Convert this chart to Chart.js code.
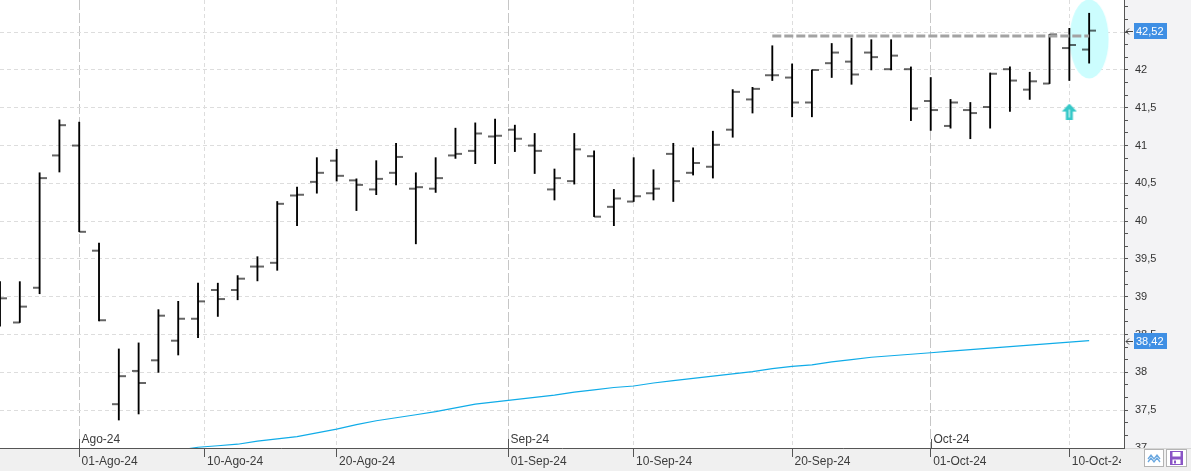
<!DOCTYPE html>
<html><head><meta charset="utf-8">
<script src="https://cdn.jsdelivr.net/npm/chart.js@4.4.1/dist/chart.umd.min.js"></script>
<style>
html,body{margin:0;padding:0;background:#f3f3f5;overflow:hidden;}
canvas{display:block;}
</style></head><body>
<canvas id="c" width="1191" height="471"></canvas>
<script>
// ---------- DATA ----------
const dates = ['2024-07-26','2024-07-29','2024-07-30','2024-07-31','2024-08-01','2024-08-02','2024-08-05','2024-08-06','2024-08-07','2024-08-08','2024-08-09','2024-08-12','2024-08-13','2024-08-14','2024-08-15','2024-08-16','2024-08-19','2024-08-20','2024-08-21','2024-08-22','2024-08-23','2024-08-26','2024-08-27','2024-08-28','2024-08-29','2024-08-30','2024-09-02','2024-09-03','2024-09-04','2024-09-05','2024-09-06','2024-09-09','2024-09-10','2024-09-11','2024-09-12','2024-09-13','2024-09-16','2024-09-17','2024-09-18','2024-09-19','2024-09-20','2024-09-23','2024-09-24','2024-09-25','2024-09-26','2024-09-27','2024-09-30','2024-10-01','2024-10-02','2024-10-03','2024-10-04','2024-10-07','2024-10-08','2024-10-09','2024-10-10','2024-10-11'];
const open  = [39.05,38.66,39.12,40.87,41.00,39.61,37.58,38.02,38.16,38.42, 38.71,39.09,39.09,39.40,39.45,40.34,40.52,40.80,40.54,40.42, 40.64,40.43,40.43,40.87,40.93,41.12,41.21,41.00,40.42,40.53, 40.86,40.19,40.26,40.37,40.89,40.64,40.72,41.21,41.61,41.93, 41.90,41.57,42.09,42.11,42.23,42.01,42.01,41.59,41.26,41.47, 41.51,42.01,41.74,41.82,42.29,42.27];
const high  = [39.20,39.20,40.64,41.34,41.31,39.71,38.31,38.39,38.83,38.94, 39.18,39.18,39.28,39.53,40.26,40.45,40.84,40.95,40.56,40.80, 41.03,40.64,40.84,41.23,41.30,41.35,41.27,41.16,40.69,41.16, 40.93,40.42,40.84,40.68,41.03,40.97,41.19,41.74,41.77,42.32, 42.08,42.00,42.35,42.42,42.40,42.40,42.04,41.90,41.61,41.57, 41.96,42.04,41.97,42.47,42.55,42.75];
const low   = [38.61,38.66,39.04,40.65,39.86,38.68,37.37,37.45,38.00,38.23, 38.46,38.74,38.96,39.21,39.35,39.94,40.37,40.53,40.14,40.35, 40.48,39.70,40.38,40.83,40.76,40.76,40.92,40.63,40.28,40.49, 40.06,39.94,40.26,40.28,40.26,40.61,40.57,41.11,41.43,41.86, 41.38,41.38,41.90,41.81,42.00,42.00,41.33,41.20,41.23,41.09, 41.23,41.45,41.61,41.82,41.86,42.09];
const close = [38.98,38.87,40.57,41.27,39.86,38.69,37.95,37.86,38.75,38.71, 38.94,38.97,39.24,39.40,40.23,40.35,40.64,40.60,40.48,40.56, 40.85,40.45,40.57,40.89,41.16,41.13,41.09,40.93,40.57,40.95, 40.06,40.30,40.33,40.43,40.53,40.77,41.01,41.71,41.75,41.93, 41.57,42.00,42.23,41.94,42.17,42.19,41.49,41.47,41.57,41.43, 41.95,41.86,41.85,42.47,42.33,42.52];
const ma    = [null,null,null,null,null,null,null,null,null,36.97, 37.01,37.03,37.05,37.09,37.12,37.15,37.20,37.25,37.31,37.36, 37.40,37.44,37.48,37.53,37.58,37.61,37.64,37.67,37.70,37.74, 37.77,37.80,37.82,37.86,37.89,37.92,37.95,37.98,38.01,38.05, 38.08,38.10,38.14,38.17,38.20,38.22,38.24,38.26,38.28,38.30, 38.32,38.34,38.36,38.38,38.40,38.42];

const axisDates  = ['2024-08-01','2024-08-10','2024-08-20','2024-09-01','2024-09-10','2024-09-20','2024-10-01','2024-10-10'];
const axisLabels = ['01-Ago-24','10-Ago-24','20-Ago-24','01-Sep-24','10-Sep-24','20-Sep-24','01-Oct-24','10-Oct-24'];
const monthDates  = ['2024-08-01','2024-09-01','2024-10-01'];
const monthLabels = ['Ago-24','Sep-24','Oct-24'];

const resistanceFrom = '2024-09-19';
const resistanceTo   = '2024-10-11';
const resistanceValue = 42.45;
const signalDate = '2024-10-10';
const signalValue = 41.45;
const highlightDate = '2024-10-11';
const highlightValue = 42.41;

// ---------- helpers ----------
const FONT = "'Liberation Sans', Arial, sans-serif";
const dayNum = s => Date.UTC(+s.slice(0,4), +s.slice(5,7)-1, +s.slice(8,10)) / 86400000;
const tradeDays = dates.map(dayNum);
function posOf(s) {
  const t = dayNum(s);
  for (let i = 0; i < tradeDays.length; i++) {
    if (tradeDays[i] === t) return i;
    if (tradeDays[i] > t) { const a = i - 1; return a + (t - tradeDays[a]) / (tradeDays[i] - tradeDays[a]); }
  }
  return tradeDays.length - 1;
}
const fmtAxis = v => String(Math.round(v * 10) / 10).replace('.', ',');
const fmtPrice = v => v.toFixed(2).replace('.', ',');

function tickImg(side) {
  const c = document.createElement('canvas'); c.width = 14; c.height = 4;
  const g = c.getContext('2d'); g.fillStyle = '#000';
  g.fillRect(side < 0 ? 0 : 7, 1.4, 7, 1.2);
  return c;
}
function ellipseImg() {
  const c = document.createElement('canvas'); c.width = 40; c.height = 80;
  const g = c.getContext('2d'); g.fillStyle = '#ccfdfe';
  g.beginPath(); g.ellipse(20, 40, 19.5, 39.5, 0, 0, Math.PI * 2); g.fill();
  return c;
}
function arrowImg() {
  const c = document.createElement('canvas'); c.width = 16; c.height = 16;
  const g = c.getContext('2d'); g.fillStyle = '#36c8c8';
  g.beginPath(); g.moveTo(8, 0); g.lineTo(15.5, 8); g.lineTo(0.5, 8); g.closePath(); g.fill();
  g.fillRect(4.5, 8, 7, 8);
  g.fillStyle = '#ffffff'; g.fillRect(7.5, 6, 1, 8);
  return c;
}

const X_MIN = 0, X_MAX = 56.76, Y_MIN = 37, Y_MAX = 42.925;

const decor = {
  id: 'decor',
  beforeDraw(chart) {
    const {ctx, chartArea: a} = chart;
    ctx.save();
    ctx.fillStyle = '#f3f3f5'; ctx.fillRect(0, 0, chart.width, chart.height);
    ctx.fillStyle = '#ffffff'; ctx.fillRect(a.left, a.top, a.right - a.left, a.bottom - a.top);
    ctx.fillStyle = '#f0f0f0'; ctx.fillRect(0, a.bottom, chart.width, chart.height - a.bottom);
    ctx.restore();
  },
  afterDraw(chart) {
    const {ctx, chartArea: a} = chart;
    const xs = chart.scales.x, ys = chart.scales.y;
    ctx.save();
    // month labels inside plot
    ctx.font = '12px ' + FONT; ctx.fillStyle = '#3c3c3c'; ctx.textBaseline = 'middle'; ctx.textAlign = 'left';
    monthDates.forEach((d, i) => {
      const x = Math.round(xs.getPixelForValue(posOf(d))) + 0.5;
      ctx.strokeStyle = '#555'; ctx.lineWidth = 1;
      ctx.beginPath(); ctx.moveTo(x, a.bottom - 9); ctx.lineTo(x, a.bottom); ctx.stroke();
      ctx.fillText(monthLabels[i], x + 2, a.bottom - 8);
    });
    // bottom-right corner cover
    ctx.fillStyle = '#f0f0f0'; ctx.fillRect(a.right - 3, a.bottom + 1, chart.width - a.right + 3, chart.height - a.bottom);
    ctx.strokeStyle = '#d6d6d6'; ctx.beginPath(); ctx.moveTo(a.right + 1, a.bottom + 0.5); ctx.lineTo(chart.width, a.bottom + 0.5); ctx.stroke();
    // buttons
    ctx.fillStyle = '#fff'; ctx.strokeStyle = '#b4b4b4';
    ctx.fillRect(1144.5, 449.5, 19, 17); ctx.strokeRect(1144.5, 449.5, 19, 17);
    ctx.fillRect(1166.5, 449.5, 20, 17); ctx.strokeRect(1166.5, 449.5, 20, 17);
    ctx.strokeStyle = '#6aa8e0'; ctx.lineWidth = 1.3;
    [0, 3].forEach(dy => {
      ctx.beginPath(); ctx.moveTo(1148, 459 + dy); ctx.lineTo(1151, 455 + dy); ctx.lineTo(1154, 459 + dy); ctx.lineTo(1157, 455 + dy); ctx.lineTo(1160, 459 + dy); ctx.stroke();
    });
    ctx.fillStyle = '#8a55c6'; ctx.fillRect(1170, 451, 13, 14);
    ctx.fillStyle = '#fff'; ctx.fillRect(1172.5, 452, 8, 4.5); ctx.fillRect(1172.5, 459.5, 8, 4.5);
    ctx.fillStyle = '#8a55c6'; ctx.fillRect(1174, 460.5, 2, 3);
    // price tags
    const tag = (v) => {
      const y = ys.getPixelForValue(v);
      const yr = Math.round(y);
      ctx.fillStyle = '#3f8fe4'; ctx.fillRect(a.right + 10, yr - 8, 33, 16);
      ctx.fillStyle = '#ffffff'; ctx.font = '11px ' + FONT; ctx.textAlign = 'left'; ctx.textBaseline = 'middle';
      ctx.fillText(fmtPrice(v), a.right + 12, yr + 0.5);
      ctx.strokeStyle = '#444'; ctx.lineWidth = 1;
      ctx.beginPath(); ctx.moveTo(a.right + 2, yr + 0.5); ctx.lineTo(a.right + 9, yr + 0.5);
      ctx.moveTo(a.right + 5, yr - 2.5); ctx.lineTo(a.right + 2, yr + 0.5); ctx.lineTo(a.right + 5, yr + 3.5); ctx.stroke();
    };
    tag(close[close.length - 1]);
    tag(ma[ma.length - 1]);
    ctx.restore();
  }
};

const xy = (arr) => arr.map((v, i) => ({x: i, y: v}));

new Chart(document.getElementById('c'), {
  type: 'line',
  data: {
    datasets: [
      { type: 'scatter', data: [{x: posOf(highlightDate), y: highlightValue}], pointStyle: ellipseImg(), pointRadius: 1, pointHoverRadius: 1, order: 10 },
      { type: 'line', data: xy(ma), borderColor: '#10ace8', borderWidth: 1.2, pointRadius: 0, pointHoverRadius: 0, tension: 0, spanGaps: false, order: 8 },
      { type: 'bar', data: dates.map((d, i) => ({x: i, y: [low[i], high[i]]})), backgroundColor: '#000', borderWidth: 0, barThickness: 1.2, order: 5 },
      { type: 'scatter', data: xy(open), pointStyle: tickImg(-1), pointRadius: 1, pointHoverRadius: 1, order: 4 },
      { type: 'scatter', data: xy(close), pointStyle: tickImg(1), pointRadius: 1, pointHoverRadius: 1, order: 4 },
      { type: 'line', data: [{x: posOf(resistanceFrom), y: resistanceValue}, {x: posOf(resistanceTo), y: resistanceValue}], borderColor: '#a3a3a3', borderWidth: 3, borderDash: [9, 3], pointRadius: 0, pointHoverRadius: 0, order: 2 },
      { type: 'scatter', data: [{x: posOf(signalDate), y: signalValue}], pointStyle: arrowImg(), pointRadius: 1, pointHoverRadius: 1, order: 1 }
    ]
  },
  options: {
    responsive: false, animation: false, devicePixelRatio: 1, events: [],
    layout: { padding: 0, autoPadding: false },
    plugins: { legend: { display: false }, tooltip: { enabled: false } },
    scales: {
      x: {
        type: 'linear', min: X_MIN, max: X_MAX, offset: false,
        afterBuildTicks: s => { s.ticks = axisDates.map((d, i) => ({ value: posOf(d), lab: axisLabels[i], isMonth: monthDates.includes(d) })); },
        afterFit: s => { s.height = 23; s.paddingLeft = 0; s.paddingRight = 0; },
        ticks: { autoSkip: false, maxRotation: 0, minRotation: 0, align: 'start', padding: -3, color: '#3c3c3c', font: { family: FONT, size: 12 },
                 callback: (v, i, t) => '\u2009' + t[i].lab },
        grid: { offset: false, color: c => (c.tick && c.tick.isMonth) ? '#c6c6c6' : '#dddddd', lineWidth: 1, tickLength: 9, tickColor: '#555', tickWidth: 1, tickBorderDash: [] },
        border: { color: '#555', width: 1, dash: c => c.tick ? (c.tick.isMonth ? [10, 3] : [4, 3]) : [] }
      },
      y: {
        type: 'linear', position: 'right', min: Y_MIN, max: Y_MAX, beginAtZero: false,
        afterBuildTicks: s => { const t = []; for (let k = 0; Y_MIN + k / 6 <= Y_MAX; k++) t.push({ value: Y_MIN + k / 6, labeled: k % 3 === 0 }); s.ticks = t; },
        afterFit: s => { s.width = 67; s.paddingTop = 0; s.paddingBottom = 0; },
        ticks: { autoSkip: false, padding: 7, color: '#333', font: { family: FONT, size: 11 },
                 callback: (v, i, t) => t[i].labeled ? fmtAxis(v) : '' },
        grid: { color: c => (c.tick && c.tick.labeled) ? '#dddddd' : 'rgba(0,0,0,0)', lineWidth: 1, tickLength: 4, tickColor: '#555', tickWidth: 1, tickBorderDash: [] },
        border: { color: '#555', width: 1, dash: c => c.tick ? [4, 3] : [] }
      }
    }
  },
  plugins: [decor]
});
</script>
</body></html>
